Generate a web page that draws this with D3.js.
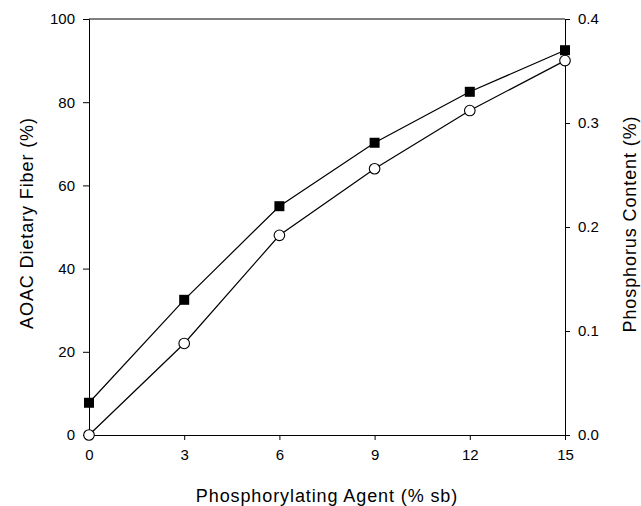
<!DOCTYPE html>
<html>
<head>
<meta charset="utf-8">
<script src="https://cdn.jsdelivr.net/npm/d3@7"></script>
<style>
  body { margin: 0; background: #fff; }
  text { font-family: "Liberation Sans", Arial, sans-serif; fill: #000; }
  .title { font-size: 18px; letter-spacing: 0.9px; }
</style>
</head>
<body>
<svg id="chart" width="641" height="506"></svg>
<script>
// phosphorylating agent levels (% sb)
const agent = [0, 3, 6, 9, 12, 15];
// AOAC dietary fiber (%), open circles, left axis
const fiber = [0, 22, 48, 64, 78, 90];
// phosphorus content (%), filled squares, right axis
const phosphorus = [0.031, 0.13, 0.22, 0.281, 0.33, 0.37];

const xTicks = [0, 3, 6, 9, 12, 15];
const leftTicks = [0, 20, 40, 60, 80, 100];
const rightTicks = [0, 0.1, 0.2, 0.3, 0.4];

const margin = {top: 19, right: 75, bottom: 70, left: 89};
const width = 641, height = 506;
const svg = d3.select("#chart");

let x = d3.scaleLinear().domain([0, 15]).range([margin.left, width - margin.right - 1]);
let yL = d3.scaleLinear().domain([0, 100]).range([height - margin.bottom - 1, margin.top]);
let yR = d3.scaleLinear().domain([0, 0.4]).range([height - margin.bottom - 1, margin.top]);

// frame top line
svg.append("line")
  .attr("x1", x(0)).attr("x2", x(15))
  .attr("y1", yL(100)).attr("y2", yL(100))
  .attr("stroke", "#000");

let xAxis = svg.append("g")
  .attr("transform", "translate(0," + yL(0) + ")")
  .call(d3.axisBottom(x).tickValues(xTicks).tickSize(5).tickPadding(9).tickFormat(d3.format("d")));

let leftAxis = svg.append("g")
  .attr("transform", "translate(" + x(0) + ",0)")
  .call(d3.axisLeft(yL).tickValues(leftTicks).tickSize(6).tickPadding(8).tickFormat(d3.format("d")));

let rightAxis = svg.append("g")
  .attr("transform", "translate(" + x(15) + ",0)")
  .call(d3.axisRight(yR).tickValues(rightTicks).tickSize(5).tickPadding(8).tickFormat(d3.format(".1f")));

[xAxis, leftAxis, rightAxis].forEach(g => {
  g.select(".domain").attr("stroke", "#000");
  g.selectAll(".tick line").attr("stroke", "#000");
  g.selectAll("text").style("font-size", "15px").attr("fill", "#000");
});

// axis titles
svg.append("text")
  .attr("class", "title")
  .attr("x", (x(0) + x(15)) / 2)
  .attr("y", 502)
  .attr("text-anchor", "middle")
  .text("Phosphorylating Agent (% sb)");

svg.append("text")
  .attr("class", "title")
  .attr("transform", "translate(33,223) rotate(-90)")
  .attr("text-anchor", "middle")
  .text("AOAC Dietary Fiber (%)");

svg.append("text")
  .attr("class", "title")
  .attr("transform", "translate(636,224) rotate(-90)")
  .attr("text-anchor", "middle")
  .text("Phosphorus Content (%)");

// lines
let lineL = d3.line().x((d, i) => x(agent[i])).y(d => yL(d));
let lineR = d3.line().x((d, i) => x(agent[i])).y(d => yR(d));

svg.append("path")
  .datum(phosphorus)
  .attr("d", lineR)
  .attr("fill", "none")
  .attr("stroke", "#000")
  .attr("stroke-width", 1.2);

svg.append("path")
  .datum(fiber)
  .attr("d", lineL)
  .attr("fill", "none")
  .attr("stroke", "#000")
  .attr("stroke-width", 1.2);

// markers
svg.selectAll(".sq")
  .data(phosphorus)
  .enter()
  .append("rect")
  .attr("class", "sq")
  .attr("x", (d, i) => x(agent[i]) - 5)
  .attr("y", d => yR(d) - 5)
  .attr("width", 10)
  .attr("height", 10)
  .attr("fill", "#000");

svg.selectAll(".ci")
  .data(fiber)
  .enter()
  .append("circle")
  .attr("class", "ci")
  .attr("cx", (d, i) => x(agent[i]))
  .attr("cy", d => yL(d))
  .attr("r", 5.3)
  .attr("fill", "#fff")
  .attr("stroke", "#000")
  .attr("stroke-width", 1.1);
</script>
</body>
</html>
